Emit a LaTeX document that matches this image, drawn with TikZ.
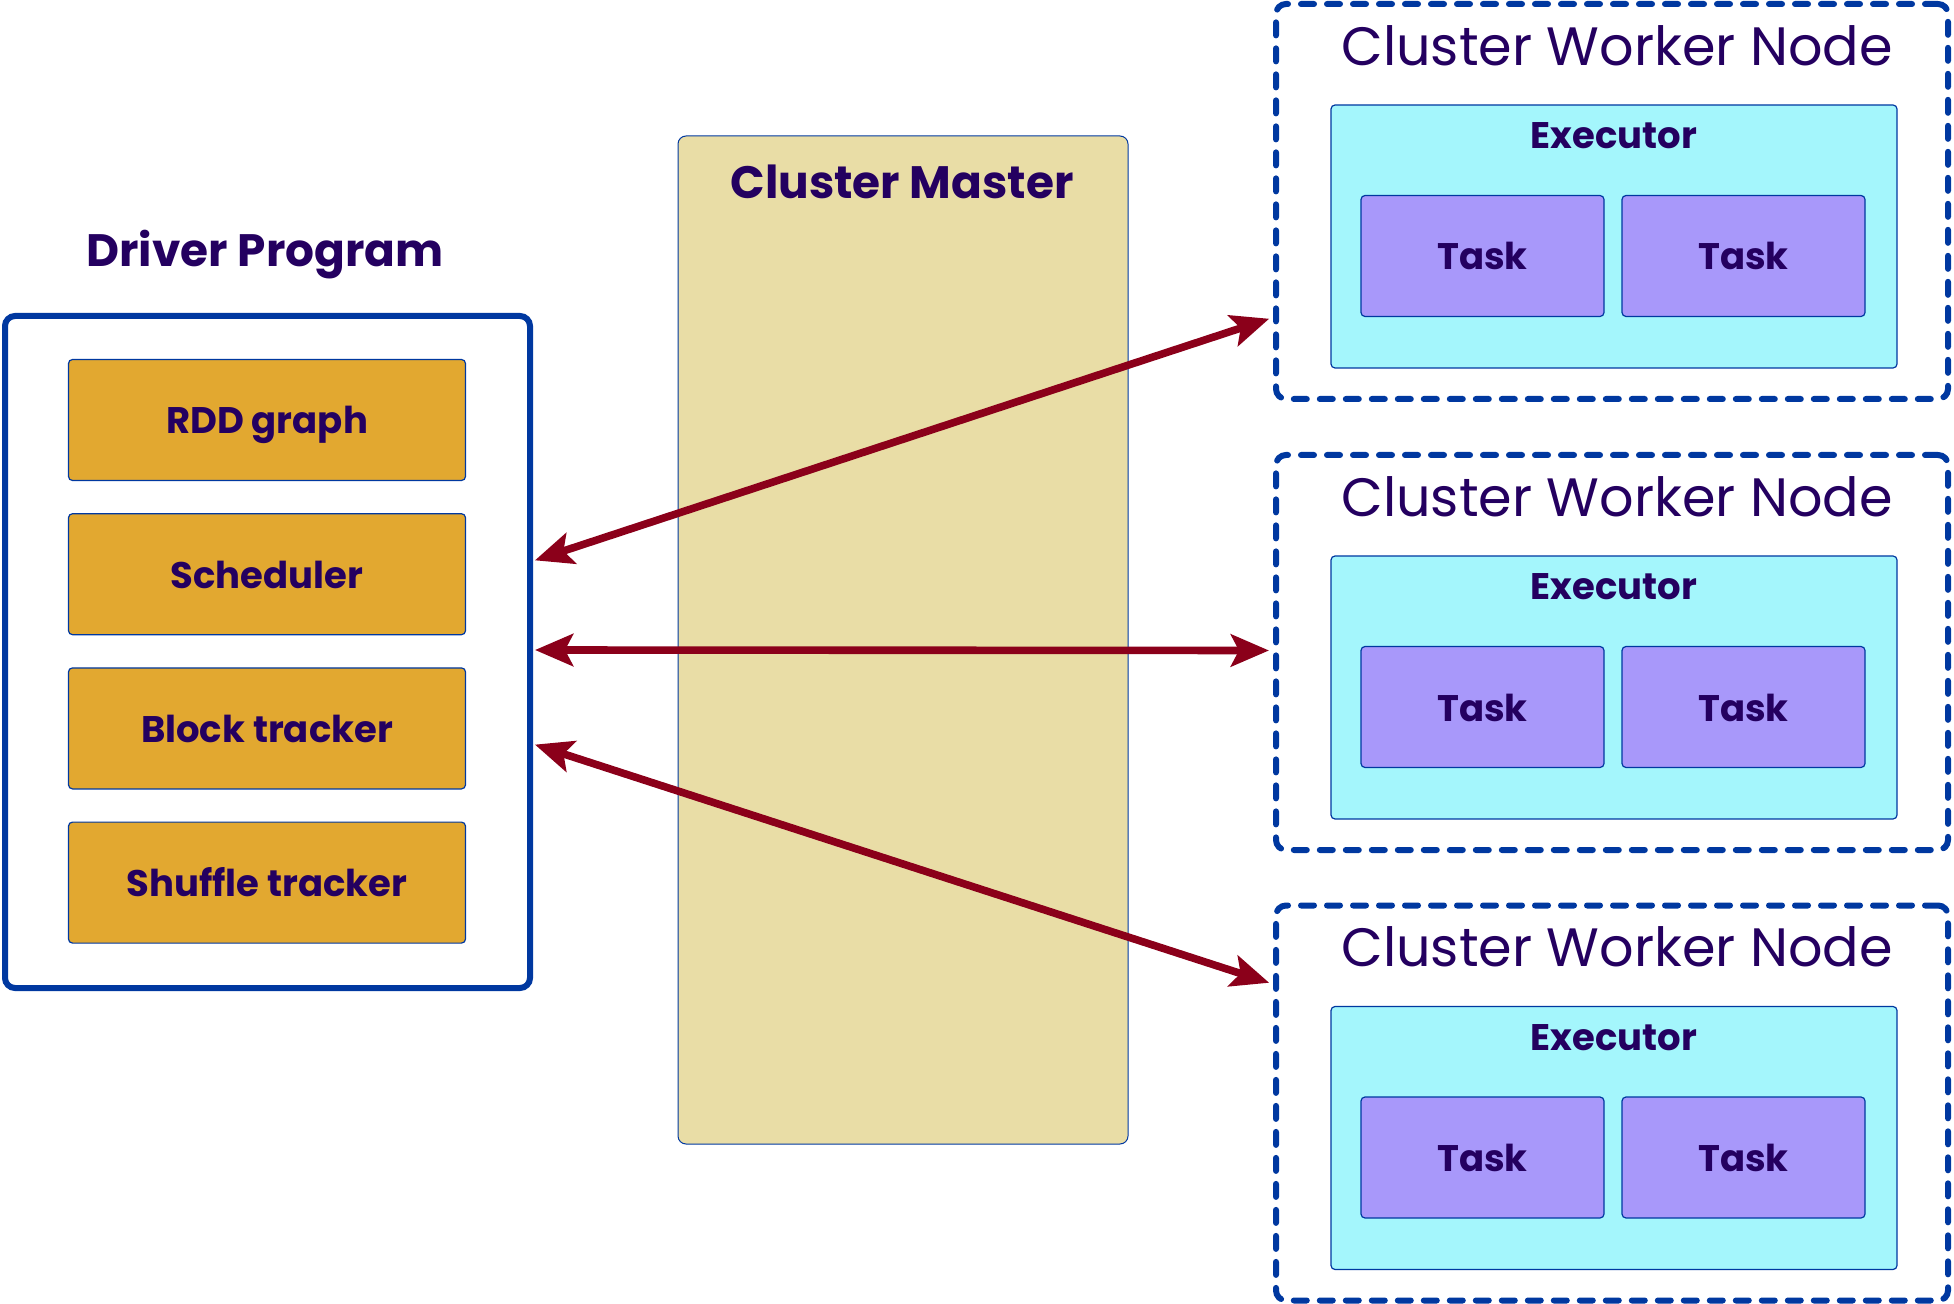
\documentclass[tikz,border=0pt]{standalone}
\usepackage{fontspec}
\setmainfont{Poppins}
\usetikzlibrary{positioning,arrows.meta}

\definecolor{ink}{RGB}{36,0,96}
\definecolor{edge}{RGB}{0,56,160}
\definecolor{linkred}{RGB}{139,0,26}
\definecolor{partfill}{RGB}{226,168,48}
\definecolor{masterfill}{RGB}{233,221,166}
\definecolor{execfill}{RGB}{164,246,252}
\definecolor{taskfill}{RGB}{168,152,250}

\begin{document}
\begin{tikzpicture}[x=0.5pt,y=-0.5pt,
		title/.style={text=ink,font=\fontsize{22.7}{26}\selectfont\bfseries,
			text height=15.8pt,text depth=0pt},
		label/.style={text=ink,font=\fontsize{18.5}{22}\selectfont\bfseries,
			text height=14pt,text depth=0pt},
		box/.style={label,draw=edge,line width=0.6pt,rounded corners=2pt},
		part/.style={box,fill=partfill,minimum width=198.5pt,minimum height=60.5pt},
		task/.style={box,fill=taskfill,minimum width=121.5pt,minimum height=60.5pt},
		worker/.style={draw=edge,line width=3pt,dash pattern=on 6.5pt off 6.5pt,
			line cap=round,rounded corners=5pt,minimum width=336pt,minimum height=197.5pt},
		link/.style={draw=linkred,line width=3.8pt,shorten >=2pt,shorten <=1pt,
			{Stealth[length=19pt,width=16pt,inset=4pt]}-{Stealth[length=19pt,width=16pt,inset=4pt]}}]
		\useasboundingbox (0,0) rectangle (1954,1304);
		% driver side
		\node[title] (drivertitle) at (265,251) {Driver Program};
		\node[draw=edge,line width=3pt,rounded corners=5pt,fill=white,
			minimum width=262.5pt,minimum height=336pt] (driver) at (267.5,652) {};
		\node[part] (rdd) at (267,420) {RDD graph};
		\node[part,below=16pt of rdd] (sched) {Scheduler};
		\node[part,below=16pt of sched] (block) {Block tracker};
		\node[part,below=16pt of block] (shuffle) {Shuffle tracker};
		% master
		\node[draw=edge,line width=0.5pt,rounded corners=4pt,fill=masterfill,
			minimum width=225pt,minimum height=504pt] (master) at (903,640) {};
		\node[title] (mastertitle) at (902,183) {Cluster Master};
		% workers
		\foreach \i/\y in {1/201.5,2/652.5,3/1103} {
			\node[worker] (worker\i) at (1612,\y) {};
			\node[text=ink,font=\fontsize{27}{31}\selectfont,text height=18.8pt,text depth=0pt]
				(wtitle\i) at (1617,\y-155) {Cluster Worker Node};
			\node[draw=edge,line width=0.6pt,rounded corners=2pt,fill=execfill,
				minimum width=283pt,minimum height=131.5pt] (exec\i) at (1614,\y+35) {};
			\node[label] (etitle\i) at (1614,\y-66.5) {Executor};
			\node[task] (taska\i) at (1482.5,\y+54.5) {Task};
			\node[task] (taskb\i) at (1743.5,\y+54.5) {Task};
		}
		% links
		\draw[link] ([yshift=45.5pt]driver.east) -- ([yshift=-58pt]worker1.west);
		\draw[link] ([yshift=1pt]driver.east) -- ([yshift=1pt]worker2.west);
		\draw[link] ([yshift=-46pt]driver.east) -- ([yshift=59.5pt]worker3.west);
	\end{tikzpicture}
\end{document}
